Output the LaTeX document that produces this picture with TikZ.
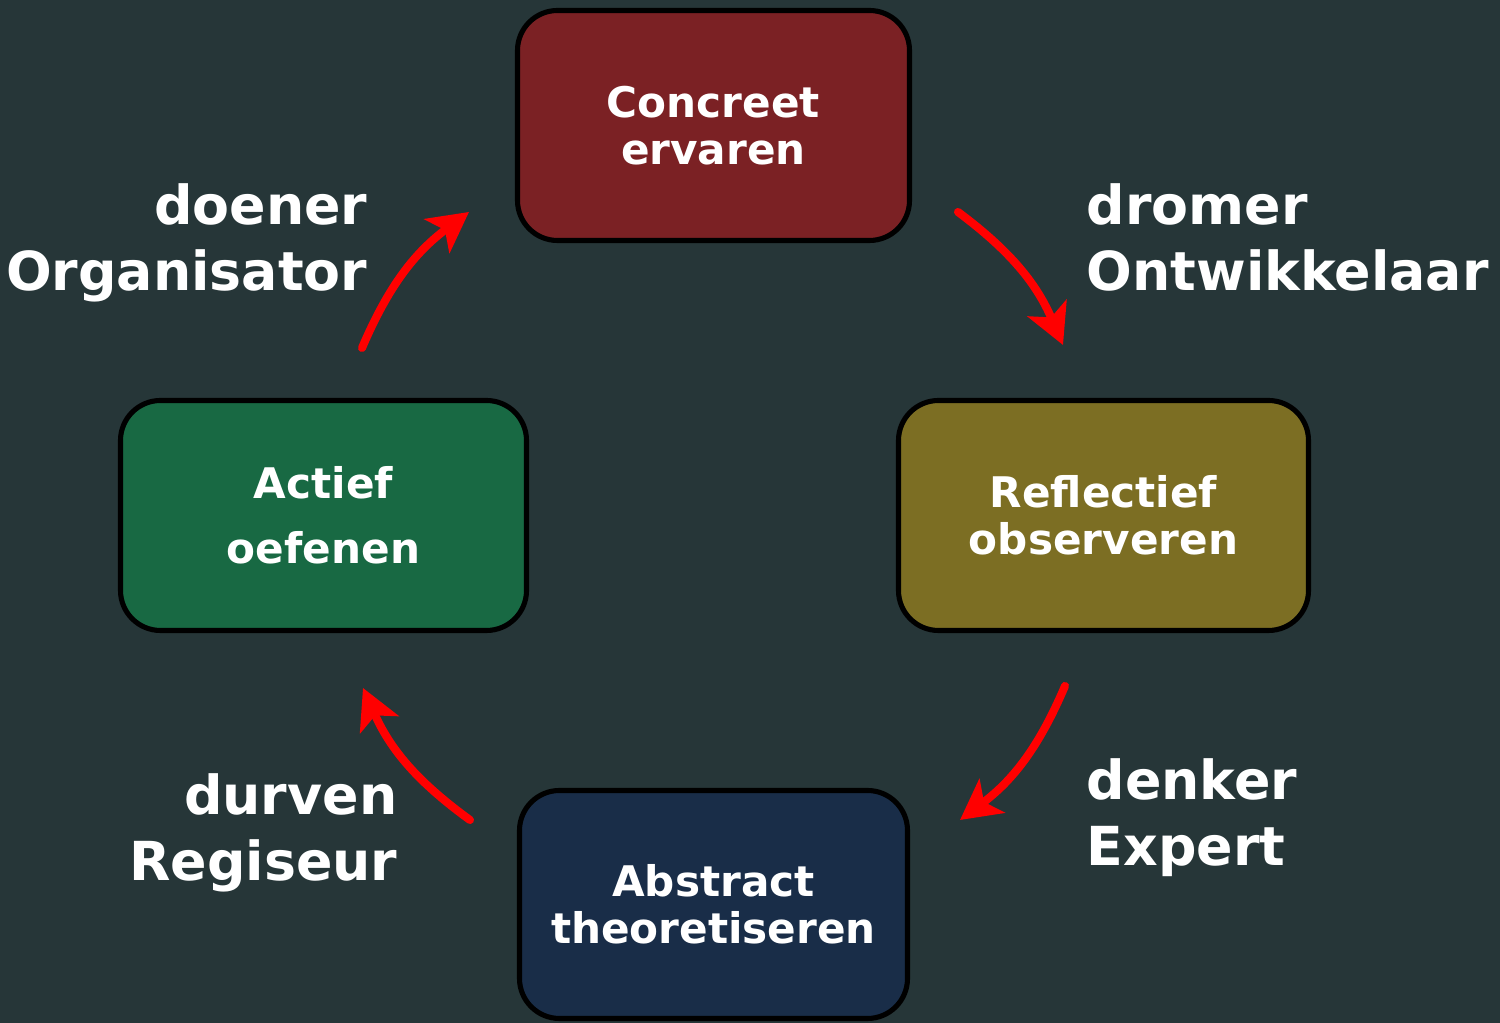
\documentclass[tikz,border=0pt]{standalone}
\usepackage{fontspec}
\setmainfont{DejaVu Sans}
\usetikzlibrary{arrows.meta}

\definecolor{bgslate}{RGB}{38,54,56}
\definecolor{concreet}{RGB}{123,33,36}
\definecolor{reflectief}{RGB}{124,110,35}
\definecolor{abstract}{RGB}{25,45,72}
\definecolor{actief}{RGB}{24,105,67}

\begin{document}
\begin{tikzpicture}[
  box/.style={draw=black, line width=1.45pt, rounded corners=0.4cm, text=white,
    align=center, inner sep=0pt, font=\bfseries\fontsize{12}{13.4}\selectfont},
  role/.style={text=white, inner sep=0pt, font=\bfseries\fontsize{15.3}{18.8}\selectfont},
  cycle arrow/.style={red, line width=2.3pt, line cap=round,
    -{Stealth[length=4mm,width=4.2mm,inset=1mm]}}]
\fill[bgslate] (0,0) rectangle (15,-10.23);

% the four stages
\node[box, fill=concreet, minimum width=3.92cm, minimum height=2.30cm] (CE) at (7.135,-1.255) {Concreet\\ervaren};
\node[box, fill=reflectief, minimum width=4.10cm, minimum height=2.30cm] (RO) at (11.035,-5.155) {Reflectief\\observeren};
\node[box, fill=abstract, minimum width=3.88cm, minimum height=2.28cm] (AT) at (7.135,-9.045) {Abstract\\theoretiseren};
\node[box, fill=actief, minimum width=4.06cm, minimum height=2.30cm] (AO) at (3.235,-5.155) {Actief\\[5pt]oefenen};

% arrow ends
\coordinate (a1) at (3.62,-3.48);
\coordinate (b1) at (4.69,-2.12);
\coordinate (a2) at (9.58,-2.12);
\coordinate (b2) at (10.63,-3.45);
\coordinate (a3) at (10.65,-6.86);
\coordinate (b3) at (9.60,-8.20);
\coordinate (a4) at (4.70,-8.20);
\coordinate (b4) at (3.63,-6.88);

\draw[cycle arrow] (a1) to[bend left=15] (b1);
\draw[cycle arrow] (a2) to[bend left=15] (b2);
\draw[cycle arrow] (a3) to[bend left=15] (b3);
\draw[cycle arrow] (a4) to[bend left=15] (b4);

% roles
\node[role, align=right, anchor=north east] (doener) at (3.68,-1.83) {doener\\Organisator};
\node[role, align=left, anchor=north west] (dromer) at (10.86,-1.83) {dromer\\Ontwikkelaar};
\node[role, align=left, anchor=north west] (denker) at (10.86,-7.58) {denker\\Expert};
\node[role, align=right, anchor=north east] (durven) at (3.98,-7.73) {durven\\Regiseur};
\end{tikzpicture}
\end{document}
